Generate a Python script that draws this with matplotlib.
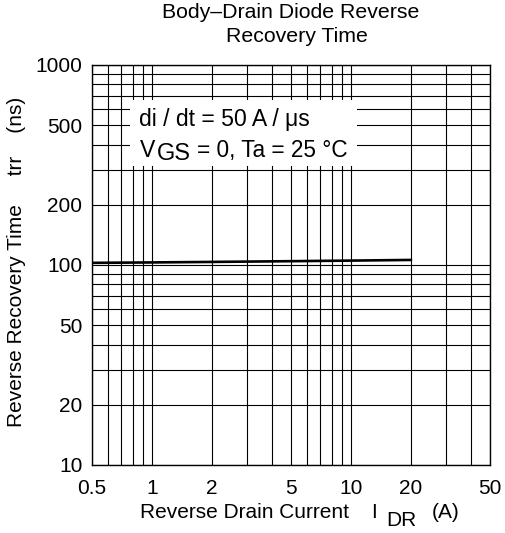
import matplotlib
matplotlib.use("Agg")
import matplotlib.pyplot as plt
from matplotlib.ticker import FixedLocator, NullFormatter

plt.rcParams['font.family'] = ['Liberation Sans', 'DejaVu Sans']

current = [0.5, 1, 2, 5, 10, 20]
trr = [102.5, 103, 103.6, 104.5, 105.2, 106]

x_ticks = [0.5, 1, 2, 5, 10, 20, 50]
x_labels = ["0.5", "1", "2", "5", "10", "20", "50"]
y_ticks = [10, 20, 50, 100, 200, 500, 1000]
y_labels = ["10", "20", "50", "100", "200", "500", "1000"]

W, H = 506, 533
fig = plt.figure(figsize=(W/100, H/100), dpi=100)
ax = fig.add_axes([92/W, 1-465/H, (490-92)/W, (465-65)/H])
ax.set_xscale('log')
ax.set_yscale('log')
ax.set_xlim(0.5, 50)
ax.set_ylim(10, 1000)

xgrid = [v * d for d in (0.1, 1, 10) for v in range(1, 10) if 0.5 <= v * d <= 50]
ygrid = [v * d for d in (10, 100) for v in range(1, 10)] + [1000]
for gx in xgrid:
    ax.axvline(gx, color='black', lw=0.8, zorder=1)
for gy in ygrid:
    ax.axhline(gy, color='black', lw=0.8, zorder=1)

ax.plot(current, trr, color='black', lw=1.9, zorder=3)

ax.xaxis.set_major_locator(FixedLocator(x_ticks))
ax.set_xticklabels(x_labels)
ax.xaxis.set_minor_formatter(NullFormatter())
ax.yaxis.set_major_locator(FixedLocator(y_ticks))
ax.set_yticklabels(y_labels)
ax.yaxis.set_minor_formatter(NullFormatter())
ax.tick_params(which='both', length=0, labelsize=15)
ax.tick_params(axis='x', pad=10)
ax.tick_params(axis='y', pad=7)
for s in ax.spines.values():
    s.set_linewidth(1.0)

def fx(px):
    return px / W

def fy(py):
    return 1 - py / H

# title
fig.text(fx(291), fy(18), "Body\u2013Drain Diode Reverse", ha='center', va='baseline', fontsize=15.3)
fig.text(fx(297), fy(42), "Recovery Time", ha='center', va='baseline', fontsize=15.3)

# y label
fig.text(fx(17), fy(262), "Reverse Recovery Time     trr    (ns)", rotation=90,
         ha='center', va='center', fontsize=15, rotation_mode='anchor')

# x label
fig.text(fx(140), fy(518), "Reverse Drain Current    I", ha='left', va='baseline', fontsize=15)
fig.text(fx(386), fy(526), "DR", ha='left', va='baseline', fontsize=15)
fig.text(fx(432), fy(518), "(A)", ha='left', va='baseline', fontsize=15)

# white box behind annotation
box = plt.Rectangle((fx(130), fy(166)), (357-130)/W, (166-100)/H,
                    transform=fig.transFigure, facecolor='white', edgecolor='none', zorder=4)
ax.add_patch(box)
ax.text(fx(139), fy(126), "di / dt = 50 A / \u03bcs", transform=fig.transFigure,
        fontsize=16.6, va='baseline', ha='left', zorder=6)
ax.text(fx(140), fy(157), "V", transform=fig.transFigure,
        fontsize=16.6, va='baseline', ha='left', zorder=6)
ax.text(fx(157), fy(160), "GS", transform=fig.transFigure,
        fontsize=17, va='baseline', ha='left', zorder=6)
ax.text(fx(197), fy(157), "= 0, Ta = 25 \u00b0C", transform=fig.transFigure,
        fontsize=16.3, va='baseline', ha='left', zorder=6)

fig.savefig("out.png", dpi=100)
